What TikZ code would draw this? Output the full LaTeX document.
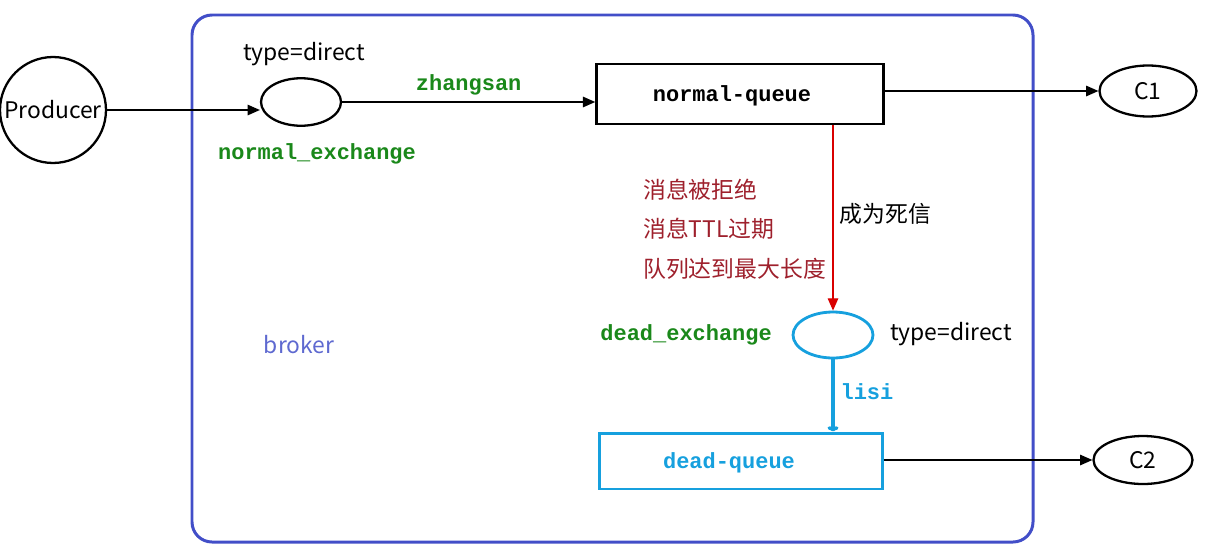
\documentclass[tikz,border=0pt]{standalone}
\usepackage{fontspec}
\setmainfont{Noto Sans CJK SC}
\newfontfamily\codefont{Liberation Mono}
\usetikzlibrary{shapes.geometric,arrows.meta}
\definecolor{brokerblue}{RGB}{66,78,200}
\definecolor{exgreen}{RGB}{26,136,26}
\definecolor{deadblue}{RGB}{22,160,222}
\definecolor{reasonred}{RGB}{158,32,44}
\begin{document}
\begin{tikzpicture}[x=0.02cm,y=-0.02cm,
    font=\fontsize{13}{15}\selectfont,
    code/.style={font=\codefont\bfseries\fontsize{12.5}{14}\selectfont},
    exch/.style={ellipse,draw,line width=1.3pt,minimum width=1.6cm,minimum height=0.95cm},
    queue/.style={rectangle,draw,line width=1.5pt,inner sep=0pt},
    flow/.style={-{Triangle[length=7pt,width=6pt]},line width=0.7pt}]
  \useasboundingbox (0,0) rectangle (1207,548);
  \draw[brokerblue,line width=1.7pt,rounded corners=0.4cm] (192,15) rectangle (1033,542);
  \node[text=brokerblue!85!white] (broker) at (299,345) {broker};

  \node[circle,draw,line width=1.3pt,minimum size=2.12cm,inner sep=0pt] (producer) at (53,110) {Producer};
  \node[exch] (nx) at (301,102) {};
  \node (nxtype) at (304,54) {type=direct};
  \node[code,text=exgreen] (nxname) at (317,154) {normal\_exchange};
  \node[queue,minimum width=5.74cm,minimum height=1.2cm] (nq) at (740,94) {};
  \node[code] at (732,96) {normal-queue};
  \node[exch,minimum width=1.94cm,minimum height=1.02cm] (c1) at (1148,91) {C1};

  \node[exch,draw=deadblue,line width=1.6pt,minimum height=0.92cm] (dx) at (833,335) {};
  \node[code,text=exgreen,anchor=east] (dxname) at (778,335) {dead\_exchange};
  \node[anchor=west] (dxtype) at (884,334) {type=direct};
  \node[queue,draw=deadblue,line width=1.7pt,minimum width=5.66cm,minimum height=1.12cm] (dq) at (741,461) {};
  \node[code,text=deadblue] at (729,463) {dead-queue};
  \node[exch,minimum width=1.98cm,minimum height=0.96cm] (c2) at (1143,460) {C2};

  \node[text=reasonred,anchor=west,align=left] (reasons) at (637,229)
    {消息被拒绝\\[7.5pt]消息TTL过期\\[7.5pt]队列达到最大长度};

  \draw[flow] (producer.east) -- (producer.east -| nx.west);
  \draw[flow] (nx.east) -- node[code,text=exgreen,above=0pt] {zhangsan} (nx.east -| nq.west);
  \draw[flow] (nq.east |- c1.west) -- (c1.west);
  \draw[flow,red!85!black,-{Triangle[length=7pt,width=6pt]}] (nq.south -| dx.north) --
    node[right,text=black,pos=0.48] {成为死信} (dx.north);
  \draw[deadblue,line width=2pt,-{To[length=3pt]}] (dx.south) --
    node[code,right,pos=0.45] {lisi} (dx.south |- dq.north);
  \draw[flow] (dq.east |- c2.west) -- (c2.west);
\end{tikzpicture}
\end{document}
